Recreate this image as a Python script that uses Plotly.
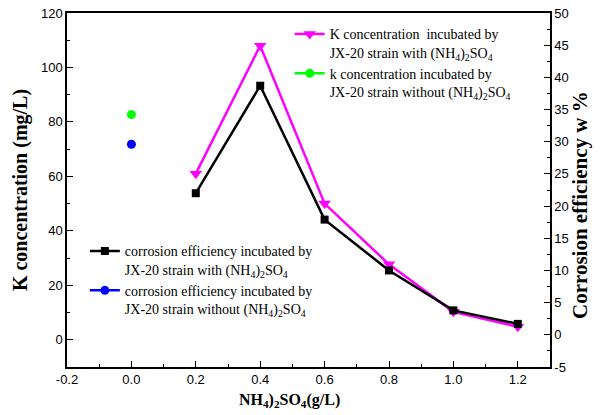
import plotly.graph_objects as go

# ---- data ----
nh4_conc = [0.2, 0.4, 0.6, 0.8, 1.0, 1.2]
k_with = [61, 108, 50, 27.7, 10.3, 4.8]          # K concentration (mg/L), with (NH4)2SO4
k_without_x = [0.0]
k_without = [82.7]                                # K concentration, without (NH4)2SO4
eff_with = [22.0, 38.7, 17.9, 10.0, 3.8, 1.7]     # corrosion efficiency %, with
eff_without_x = [0.0]
eff_without = [29.6]                              # corrosion efficiency %, without

x_tickvals = [-0.2, 0.0, 0.2, 0.4, 0.6, 0.8, 1.0, 1.2]
x_ticktext = ["-0.2", "0.0", "0.2", "0.4", "0.6", "0.8", "1.0", "1.2"]
y_tickvals = [0, 20, 40, 60, 80, 100, 120]
y2_tickvals = [-5, 0, 5, 10, 15, 20, 25, 30, 35, 40, 45, 50]
y2_ticktext = ["-5", "0", "5", "10", "15", "20", "25", "30", "35", "40", "45", "50"]

SERIF = "Liberation Serif"
SANS = "Liberation Sans"
sub = "(NH<sub>4</sub>)<sub>2</sub>SO<sub>4</sub>"

fig = go.Figure()
fig.add_trace(go.Scatter(
    x=nh4_conc, y=k_with, mode="lines+markers", yaxis="y",
    name="K concentration  incubated by<br>JX-20 strain with " + sub,
    line=dict(color="#FF00FF", width=2.5),
    marker=dict(symbol="triangle-down", size=11, color="#FF00FF"),
    legend="legend"))
fig.add_trace(go.Scatter(
    x=k_without_x, y=k_without, mode="lines+markers", yaxis="y",
    name="k concentration incubated by<br>JX-20 strain without " + sub,
    line=dict(color="#00FF00", width=2.5),
    marker=dict(symbol="circle", size=9, color="#00FF00"),
    legend="legend"))
fig.add_trace(go.Scatter(
    x=nh4_conc, y=eff_with, mode="lines+markers", yaxis="y2",
    name="corrosion efficiency incubated by<br>JX-20 strain with " + sub,
    line=dict(color="#000000", width=2.5),
    marker=dict(symbol="square", size=8, color="#000000"),
    legend="legend2"))
fig.add_trace(go.Scatter(
    x=eff_without_x, y=eff_without, mode="lines+markers", yaxis="y2",
    name="corrosion efficiency incubated by<br>JX-20 strain without " + sub,
    line=dict(color="#0000FF", width=2.5),
    marker=dict(symbol="circle", size=9, color="#0000FF"),
    legend="legend2"))

axis_common = dict(
    showline=True, linecolor="black", linewidth=1.5,
    ticks="inside", ticklen=6, tickwidth=1.2, tickcolor="black",
    showgrid=False, zeroline=False, automargin=False,
    ticklabeloverflow="allow",
    tickfont=dict(family=SANS, size=13, color="black"),
)

fig.update_layout(
    width=607, height=415,
    margin=dict(l=67, r=57, t=13, b=48),
    paper_bgcolor="white", plot_bgcolor="white",
    font=dict(family=SERIF, color="black"),
    xaxis=dict(
        range=[-0.2, 1.3], tickvals=x_tickvals, ticktext=x_ticktext,
        mirror=True,
        minor=dict(dtick=0.1, tick0=-0.2, ticks="inside", ticklen=3, tickcolor="black"),
        **axis_common),
    yaxis=dict(
        range=[-10, 120], tickvals=y_tickvals,
        minor=dict(dtick=10, tick0=0, ticks="inside", ticklen=3, tickcolor="black"),
        title=dict(text="<b>K concentration (mg/L)</b>",
                   font=dict(family=SERIF, size=20, color="black"), standoff=8),
        **axis_common),
    yaxis2=dict(
        range=[-5, 50], tickvals=y2_tickvals, ticktext=y2_ticktext,
        overlaying="y", side="right",
        minor=dict(dtick=2.5, tick0=0, ticks="inside", ticklen=3, tickcolor="black"),
        **axis_common),
    legend=dict(
        x=0.461, y=0.985, xanchor="left", yanchor="top",
        bgcolor="rgba(0,0,0,0)", borderwidth=0, valign="top",
        font=dict(family=SERIF, size=14, color="black"),
        tracegroupgap=0, itemwidth=30),
    legend2=dict(
        x=0.037, y=0.372, xanchor="left", yanchor="top",
        bgcolor="rgba(0,0,0,0)", borderwidth=0, valign="top",
        font=dict(family=SERIF, size=14, color="black"),
        tracegroupgap=0, itemwidth=30),
    showlegend=True,
    annotations=[
        dict(text="<b>NH<sub>4</sub>)<sub>2</sub>SO<sub>4</sub>(g/L)</b>",
             xref="paper", yref="paper", x=0.46, y=0,
             xanchor="center", yanchor="top", yshift=-22, showarrow=False,
             font=dict(family=SERIF, size=16, color="black")),
        dict(text="<b>Corrosion efficiency w %</b>",
             xref="paper", yref="paper", x=1, y=0.5, textangle=-90,
             xanchor="center", yanchor="middle", xshift=30, yshift=-15,
             showarrow=False,
             font=dict(family=SERIF, size=21, color="black")),
    ],
)

fig.write_html("out.html", config={"displayModeBar": False},
               post_script="document.body.style.margin='0';")
